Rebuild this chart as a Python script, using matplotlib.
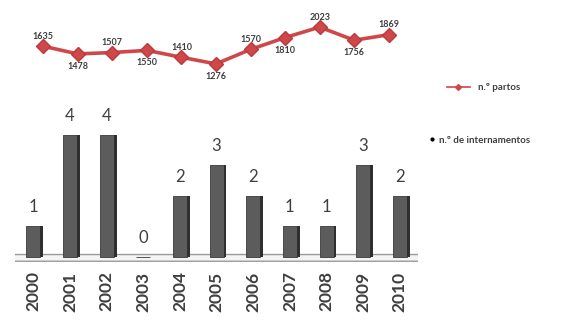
import numpy as np
import matplotlib
matplotlib.use("Agg")
import matplotlib.pyplot as plt
from matplotlib.lines import Line2D
from matplotlib.patches import Polygon

plt.rcParams["font.family"] = ["Lato", "DejaVu Sans"]

# data
years = ["2000", "2001", "2002", "2003", "2004", "2005", "2006", "2007", "2008", "2009", "2010"]
partos = [1635, 1478, 1507, 1550, 1410, 1276, 1570, 1810, 2023, 1756, 1869]
internamentos = [1, 4, 4, 0, 2, 3, 2, 1, 1, 3, 2]

text_col = "#3f3f3f"
red = "#d0474a"

fig = plt.figure(figsize=(5.76, 3.22), dpi=100)
x = np.arange(len(years))

# top panel: births line
ax_top = fig.add_axes([0.045, 0.767, 0.66, 0.202])
ax_top.plot(x, partos, color=red, lw=2.6, marker="D", ms=7, mfc=red, mec="#b83a3d")
for i, v in enumerate(partos):
    dy = 7 if i % 2 == 0 else -9
    ax_top.annotate(str(v), (i, v), xytext=(0, dy), textcoords="offset points",
                    ha="center", va="center", fontsize=6.5, color=text_col, fontweight="bold")
ax_top.set_xlim(-0.5, 10.5)
ax_top.set_ylim(1050, 2370)
ax_top.axis("off")

# bottom panel: hospitalisations, pseudo-3D bars
ax = fig.add_axes([0.026, 0.183, 0.7, 0.483])
w = 0.38
ax.bar(x, internamentos, width=w, color="#5c5c5c", edgecolor="#3a3a3a", lw=0.6, zorder=3)
ax.bar(x + w / 2 + 0.04, internamentos, width=0.08, color="#2f2f2f", lw=0, zorder=3)

# floor
floor = Polygon([(-0.9, -0.14), (10.6, -0.14), (10.9, 0.08), (-0.5, 0.08)],
                closed=True, facecolor="#f4f4f4", edgecolor="#9a9a9a", lw=1.0, zorder=1)
ax.add_patch(floor)

for i, v in enumerate(internamentos):
    ax.annotate(str(v), (i, v), xytext=(0, 14), textcoords="offset points",
                ha="center", va="center", fontsize=12, color=text_col)

ax.set_xlim(-0.5, 10.5)
ax.set_ylim(-0.2, 4.9)
ax.set_xticks(x)
ax.set_xticklabels(years, rotation=90, fontsize=12.5, color=text_col, fontweight="bold")
ax.tick_params(axis="x", length=0, pad=6)
ax.set_yticks([])
for s in ax.spines.values():
    s.set_visible(False)

# legend entries
h1 = Line2D([], [], color=red, lw=1.2, marker="D", ms=3)
leg1 = fig.legend([h1], ["n.º partos"], loc="center left", bbox_to_anchor=(0.76, 0.727),
                  frameon=False, handlelength=2.4, prop={"weight": "bold", "size": 7})
for t in leg1.get_texts():
    t.set_color(text_col)
h2 = Line2D([], [], color="black", lw=0, marker="o", ms=2)
leg2 = fig.legend([h2], ["n.º de internamentos"], loc="center left", bbox_to_anchor=(0.73, 0.565),
                  frameon=False, handlelength=0.6, handletextpad=0.4, prop={"weight": "bold", "size": 7})
for t in leg2.get_texts():
    t.set_color(text_col)

fig.savefig("out.png", dpi=100)
